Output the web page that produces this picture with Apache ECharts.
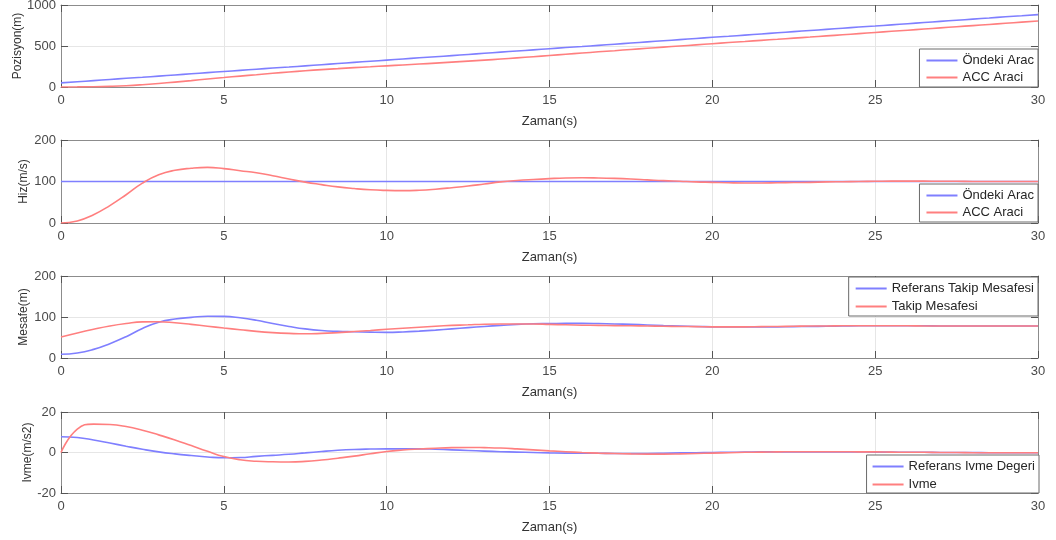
<!DOCTYPE html>
<html>
<head>
<meta charset="utf-8">
<script src="https://cdn.jsdelivr.net/npm/echarts@6/dist/echarts.min.js"></script>
<style>
  html, body { margin: 0; padding: 0; background: #fff; }
  #chart { width: 1056px; height: 540px; }
</style>
</head>
<body>
<div id="chart"></div>
<script>
// Simulation time, seconds
const time = [0,0.5,1,1.5,2,2.5,3,3.5,4,4.5,5,5.5,6,6.5,7,7.5,8,8.5,9,9.5,10,10.5,11,11.5,12,12.5,13,13.5,14,14.5,15,15.5,16,16.5,17,17.5,18,18.5,19,19.5,20,20.5,21,21.5,22,22.5,23,23.5,24,24.5,25,25.5,26,26.5,27,27.5,28,28.5,29,29.5,30];

// Position (m)
const leadPosition = [50,64,78,92,106,119,133,147,161,175,189,203,217,231,244,258,272,286,300,314,328,342,356,369,383,397,411,425,439,453,467,481,494,508,522,536,550,564,578,592,606,619,633,647,661,675,689,703,717,731,744,758,772,786,800,814,828,842,856,869,883];
const accPosition = [0,1,3,8,16,28,43,60,78,97,115,133,150,167,183,198,212,224,236,247,258,269,280,291,303,315,328,341,355,369,384,399,414,429,443,458,472,486,500,514,528,542,555,569,582,596,609,623,637,651,665,679,693,707,721,735,749,763,777,791,805];

// Speed
const leadSpeed = [100,100,100,100,100,100,100,100,100,100,100,100,100,100,100,100,100,100,100,100,100,100,100,100,100,100,100,100,100,100,100,100,100,100,100,100,100,100,100,100,100,100,100,100,100,100,100,100,100,100,100,100,100,100,100,100,100,100,100,100,100];
const accSpeed = [0,5,20,42,68,96,116,127,132,134,131,126,121,114,106,98.5,92.5,87,83,80,78.5,78,79,81.5,85,89,94,99,102.5,105,107,108.5,109,108.5,107.5,106,104,102,100.5,99,98,97,96.5,96.5,97,97.5,98,99,99.5,100,100.5,101,101,101,100.5,100.5,100,100,100,100,100];

// Following distance (m)
const refGap = [9,12,21,35,52,72,87,95,99,102,101.5,98,92,84,77,71,67,65,64,63,62.5,63.5,65.5,68,71,74,77,79.5,82,83.5,84,84.5,84.5,84,83,82,80.5,79,78,77,76,75.5,75.5,75.5,76,76.5,77,77.5,78,78.5,78.5,78.5,78.5,78.5,78,78,78,78,78,78,78];
const gap = [51,61,70,78,84,88,88.5,86,82,77.5,73,69,65,62,60,59,60,62,64.5,67,70,72.5,75,77.5,79.5,81,82.5,83,83,83,82,81,80,79.5,79,78.5,78,77.5,77,76.5,76,76,76,76.5,77,77.5,78,78,78.5,78.5,78.5,78.5,78.5,78,78,78,78,78,78,78,78];

// Acceleration (m/s2)
const refAccel = [7.8,7.4,6.2,4.7,3.1,1.6,0.3,-0.7,-1.5,-2.2,-2.6,-2.5,-1.9,-1.4,-0.9,-0.2,0.5,1.1,1.5,1.7,1.8,1.8,1.8,1.6,1.3,1.0,0.7,0.4,0.2,0,-0.2,-0.3,-0.3,-0.4,-0.5,-0.5,-0.5,-0.4,-0.2,-0.1,0,0.1,0.2,0.3,0.3,0.3,0.3,0.3,0.3,0.3,0.2,0.2,0.1,0.1,0,0,0,-0.1,-0.1,-0.1,-0.1];
const accel = [0,11.5,14,13.8,12.8,11,8.7,6.2,3.4,0.6,-2.0,-3.6,-4.3,-4.6,-4.7,-4.4,-3.7,-2.8,-1.8,-0.6,0.5,1.2,1.7,2.1,2.4,2.5,2.4,2.2,1.8,1.3,0.8,0.4,0,-0.3,-0.5,-0.7,-0.8,-0.8,-0.7,-0.5,-0.3,-0.1,0.1,0.2,0.3,0.4,0.4,0.4,0.4,0.3,0.3,0.2,0.1,0.1,0,0,-0.1,-0.1,-0.1,-0.1,-0.1];

// Axis settings per panel
const yNames = ['Pozisyon(m)', 'Hiz(m/s)', 'Mesafe(m)', 'Ivme(m/s2)'];
const yRanges = [[0, 1000, 500], [0, 200, 100], [0, 200, 100], [-20, 20, 20]];
const xName = 'Zaman(s)';

const BLUE = '#7f7fff';
const RED = '#ff7f7f';

const panels = [
  { top: 5,   height: 82, yNameGap: 37, series: [['Öndeki Arac', leadPosition, BLUE], ['ACC Araci', accPosition, RED]],
    legend: { top: 49, right: 18, padding: [4, 4, 2, 7], itemGap: 2 } },
  { top: 140, height: 83, yNameGap: 31, series: [['Öndeki Arac', leadSpeed, BLUE], ['ACC Araci', accSpeed, RED]],
    legend: { top: 184, right: 18, padding: [4, 4, 2, 7], itemGap: 2 } },
  { top: 276, height: 82, yNameGap: 31, series: [['Referans Takip Mesafesi', refGap, BLUE], ['Takip Mesafesi', gap, RED]],
    legend: { top: 277, right: 18, padding: [4, 4, 2, 7], itemGap: 3 } },
  { top: 412, height: 81, yNameGap: 27, series: [['Referans Ivme Degeri', refAccel, BLUE], ['Ivme', accel, RED]],
    legend: { top: 455, right: 17, padding: [4, 4, 1, 6], itemGap: 3 } }
];

const FONT = '"Liberation Sans", Arial, Helvetica, sans-serif';
const frameColor = '#8c8c8c';
const tickColor = '#555555';
const gridLineColor = '#e6e6e6';
const labelColor = '#4a4a4a';
const plainNumber = v => String(v);

const option = {
  animation: false,
  backgroundColor: '#ffffff',
  textStyle: { fontFamily: FONT },
  grid: [], xAxis: [], yAxis: [], series: [], legend: []
};

function frameAxis(extra) {
  return Object.assign({
    type: 'value',
    axisLine: { show: true, onZero: false, lineStyle: { color: frameColor, width: 1 } },
    axisTick: { show: true, inside: true, length: 7, lineStyle: { color: tickColor } }
  }, extra);
}

panels.forEach((p, i) => {
  option.grid.push({ left: 61, right: 18, top: p.top, height: p.height, containLabel: false, outerBoundsMode: 'none' });

  const [ymin, ymax, yint] = yRanges[i];

  option.xAxis.push(frameAxis({
    gridIndex: i, position: 'bottom', min: 0, max: 30, interval: 5,
    axisLabel: { margin: 7, fontSize: 13, color: labelColor, fontFamily: FONT, formatter: plainNumber },
    splitLine: { show: true, lineStyle: { color: gridLineColor, width: 1 } },
    name: xName, nameLocation: 'middle', nameGap: 28, nameMoveOverlap: false,
    nameTextStyle: { fontSize: 13, color: '#333333', fontFamily: FONT }
  }));
  option.xAxis.push(frameAxis({
    gridIndex: i, position: 'top', min: 0, max: 30, interval: 5,
    axisLabel: { show: false }, splitLine: { show: false }
  }));
  option.yAxis.push(frameAxis({
    gridIndex: i, position: 'left', min: ymin, max: ymax, interval: yint,
    axisLabel: { margin: 5, fontSize: 13, color: labelColor, fontFamily: FONT, formatter: plainNumber },
    splitLine: { show: true, lineStyle: { color: gridLineColor, width: 1 } },
    name: yNames[i], nameLocation: 'middle', nameGap: p.yNameGap, nameMoveOverlap: false,
    nameTextStyle: { fontSize: 12, color: '#333333', fontFamily: FONT }
  }));
  option.yAxis.push(frameAxis({
    gridIndex: i, position: 'right', min: ymin, max: ymax, interval: yint,
    axisLabel: { show: false }, splitLine: { show: false }
  }));

  p.series.forEach(([name, values, color]) => {
    option.series.push({
      type: 'line', name: name,
      xAxisIndex: 2 * i, yAxisIndex: 2 * i,
      data: time.map((t, k) => [t, values[k]]),
      showSymbol: false, smooth: true,
      color: color,
      lineStyle: { color: color, width: 1.6 },
      emphasis: { disabled: true }
    });
  });

  option.legend.push(Object.assign({
    orient: 'vertical',
    data: p.series.map(s => s[0]),
    icon: 'rect', itemWidth: 31, itemHeight: 2,
    backgroundColor: '#ffffff',
    borderColor: '#6a6a6a', borderWidth: 1, borderRadius: 0,
    textStyle: { fontSize: 13, color: '#262626', fontFamily: FONT, lineHeight: 15 },
    selectedMode: false
  }, p.legend));
});

const chart = echarts.init(document.getElementById('chart'), null, { renderer: 'canvas' });
chart.setOption(option);
</script>
</body>
</html>
